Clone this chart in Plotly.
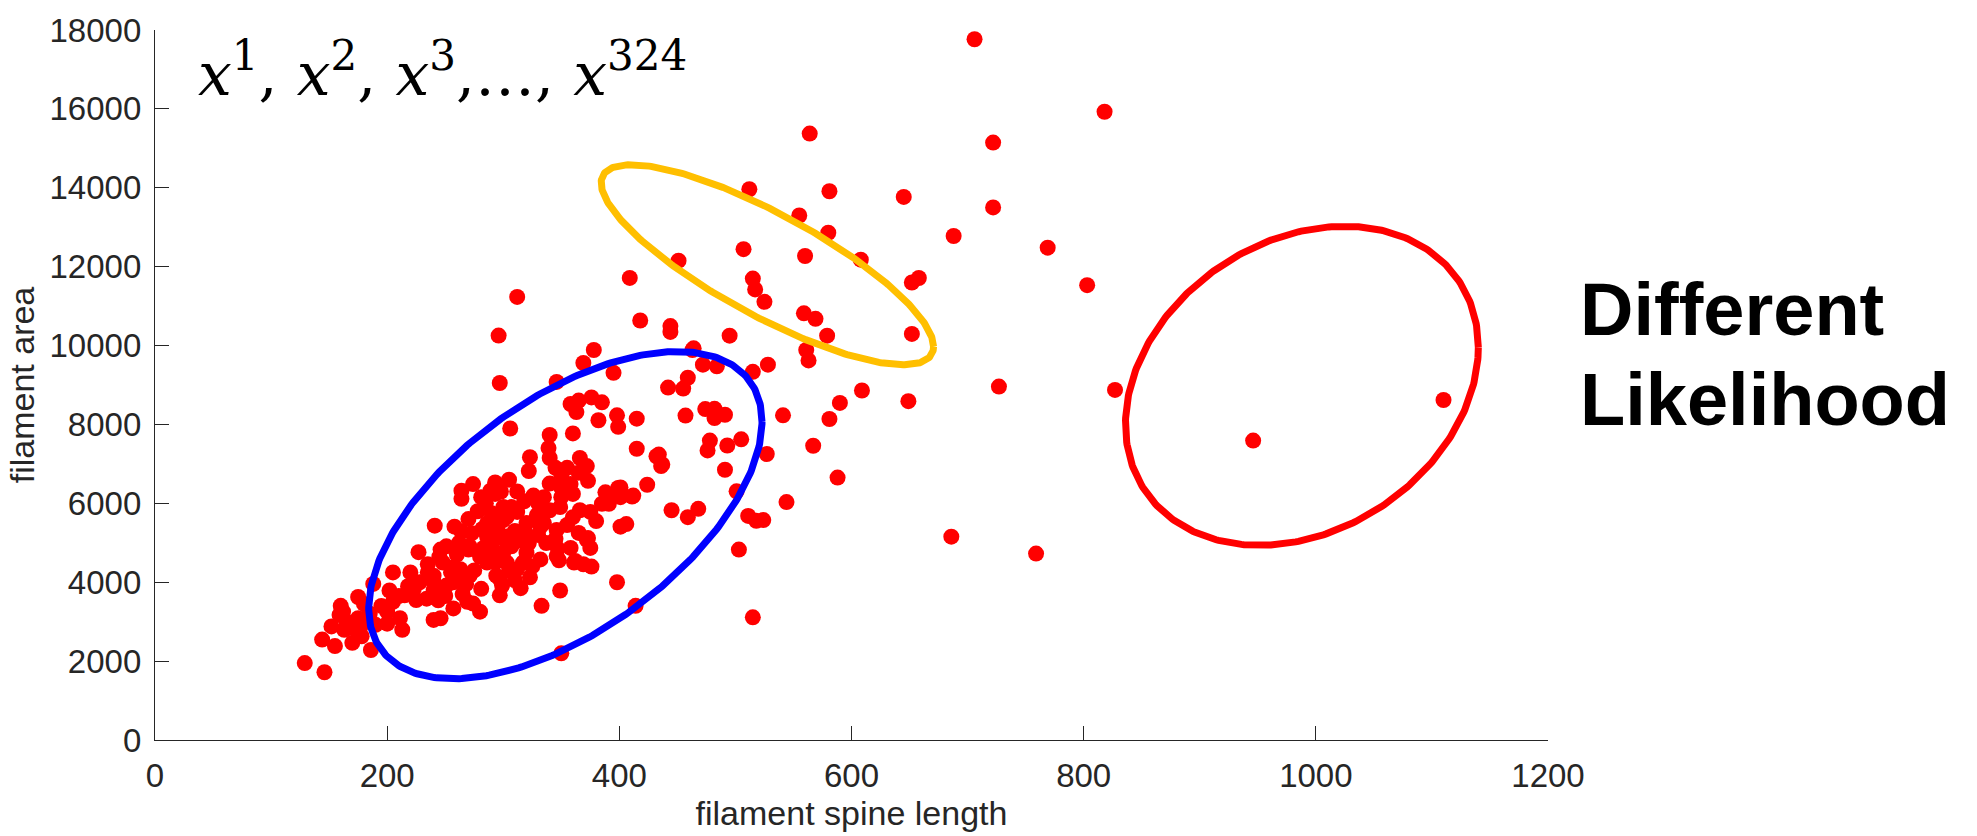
import numpy as np
import plotly.graph_objects as go

# filament measurements: spine length (x) vs. area (y)
spine_length = [
    706, 818, 722, 645, 722, 688, 769, 658, 652, 803, 652, 727, 649, 827, 1110, 946, 686, 759,
    564, 512, 581, 555, 580, 507, 560, 608, 451, 409, 515, 517, 525, 559, 569, 418, 444, 444,
    495, 579, 312, 296, 297, 306, 378, 369, 346, 395, 464, 472, 459, 442, 455, 463, 484, 515,
    528, 561, 563, 609, 590, 581, 541, 474, 482, 482, 491, 457, 567, 478, 476, 493, 505, 527,
    491, 588, 501, 459, 468, 544, 511, 518, 524, 503, 515, 414, 350, 398, 445, 432, 436,
    358, 365, 376, 385, 363, 382, 398, 399, 415, 360, 340, 415, 339, 340, 323, 322, 366, 372,
    350, 365, 373, 424, 401, 388, 412, 401, 401, 406, 385, 391, 372, 375, 358, 362, 369, 376,
    349, 323, 264, 274, 293, 293, 281, 307, 326, 335, 350, 360, 358, 289, 303, 312, 329, 340,
    349, 366, 375, 332, 346, 319, 303, 286, 273, 258, 251, 271, 291, 307, 322, 337, 332, 346,
    317, 303, 286, 263, 248, 281, 299, 312, 294, 257, 297, 283,
    333, 289, 264, 241, 227, 434, 437, 399, 399, 411, 373, 361, 347, 348, 257, 280, 240, 246,
    213, 186, 175, 188, 160, 162, 152, 163, 144, 155, 170, 129, 146, 178, 178, 190, 205, 220,
    234, 244,
    159, 175, 200, 205, 202, 211, 223, 215, 235, 246, 240, 257, 264, 270, 263, 251, 269, 274,
    271, 286, 287, 294, 297, 300, 299, 300,
    285, 290, 295, 290, 300, 305, 310, 315, 280, 275, 268, 260, 255, 245, 235, 228, 240, 250,
    265, 310, 315, 320, 325, 330, 335, 345, 355, 360, 350, 340, 330, 318, 312, 305, 298, 278,
    270, 282, 262, 355, 345, 320, 365, 380, 300, 293, 240, 218, 225, 210, 195, 185, 200, 170,
    165, 180,
]
filament_area = [
    17765, 15928, 15147, 13768, 13502, 12778, 12482, 11712, 11598, 11531, 10294, 8960, 8589, 8875, 8619, 7591, 5154, 4726,
    15373, 13962, 13912, 13298, 12859, 12444, 12270, 12178, 12153, 11715, 11697, 11424, 11108, 10818, 10677, 10635, 10494, 10346,
    10250, 10250, 11232, 10254, 9051, 7897, 9888, 9557, 9077, 9308, 9930, 9515, 9184, 8935, 8910, 9888, 9474, 9333,
    9515, 9888, 9623, 8860, 8545, 8138, 8230, 8390, 8395, 8163, 8246, 8225, 7459, 7591, 7342, 7467, 7623, 7250,
    6852, 6653, 6305, 5650, 5860, 6031, 5682, 5558, 5575, 4828, 3111, 3402, 2198, 3999, 5824, 7193, 6944,
    8519, 8604, 8686, 8561, 8313, 8106, 8230, 7939, 8146, 7773, 7733, 7384, 7400, 7150, 7168, 6819, 7150, 6944,
    6695, 6777, 6570, 6471, 6404, 6280, 6197, 6156, 5408, 5475, 5990, 5990, 5077, 4870, 4870, 4538, 4455, 4397,
    3791, 4124, 6115, 6488, 6529, 6239, 6156, 5906, 6197, 6156, 6156, 6239, 6488, 5533, 5657, 5782, 5699, 5824,
    5906, 5824, 5782, 5408, 5326, 5243, 5159, 5159, 5243, 5408, 4911, 4911, 4828, 4911, 4994, 4994, 4579, 4662,
    4497, 4497, 4497, 4331, 4497, 3833, 3915, 4331, 4165, 3999, 3667, 4870,
    3402, 6322, 6321, 5433, 4761, 7235, 6986, 6389, 6239, 6172, 5120, 4497, 4853, 4555, 3335, 3253, 3044, 3086,
    2795, 2282, 3626, 3957, 3402, 3253, 2879, 2795, 2547, 2381, 2464, 1949, 1717, 2630, 2920, 2920, 4248, 4248,
    3584, 3542,
    3169, 3086, 3253, 3502, 3791, 3086, 3833, 3667, 4455, 4828, 4165, 4373, 5284, 4828, 4082, 3915, 3502, 3459,
    4165, 5492, 4911, 5243, 4082, 5906, 4662, 5575,
    6000, 5750, 5400, 5000, 4750, 4300, 4050, 3850, 4650, 4300, 3950, 4700, 4250, 4650, 4250, 4000, 3800, 3650,
    3700, 5300, 5050, 4750, 4400, 5200, 5500, 5100, 5450, 5650, 6400, 6500, 6000, 6050, 6300, 6600, 6300, 5800,
    5600, 5350, 5000, 6900, 6900, 5500, 5250, 5550, 5100, 4500, 4000, 3900, 3550, 3650, 3400, 3200, 2950, 2850,
    3000, 3450,
]

# Gaussian components (mean, covariance) whose 1-sigma contours are drawn
component_means = [
    [353.5, 5700.0],
    [527.5, 12048.0],
    [988.0, 8980.0],
]
component_covs = [
    [[28700.0, 400700.0], [400700.0, 17203000.0]],
    [[20500.0, -296900.0], [-296900.0, 6432000.0]],
    [[23100.0, 148200.0], [148200.0, 16356000.0]],
]
component_colors = ["#0000FF", "#FFBF00", "#FF0000"]

x_ticks = [0, 200, 400, 600, 800, 1000, 1200]
y_ticks = [0, 2000, 4000, 6000, 8000, 10000, 12000, 14000, 16000, 18000]

W, H = 1977, 836
L_M, R_M, T_M, B_M = 155, 429, 21, 92
PW, PH = W - L_M - R_M, H - T_M - B_M

AX_COLOR = "#262626"
FONT = "Liberation Sans, Arial, Helvetica, sans-serif"

fig = go.Figure()

fig.add_trace(go.Scatter(
    x=spine_length, y=filament_area, mode="markers",
    marker=dict(color="#FF0000", size=16, line=dict(width=0)),
    hoverinfo="x+y", showlegend=False,
))

t = np.linspace(0, 2 * np.pi, 400)
circle = np.vstack([np.cos(t), np.sin(t)])
for mu, cov, col in zip(component_means, component_covs, component_colors):
    chol = np.linalg.cholesky(np.array(cov))
    pts = np.array(mu)[:, None] + chol @ circle
    fig.add_trace(go.Scatter(
        x=pts[0], y=pts[1], mode="lines",
        line=dict(color=col, width=7), hoverinfo="skip", showlegend=False,
    ))


def px_x(p):
    return (p - L_M) / PW


def px_y(p):
    return (H - B_M - p) / PH


fig.add_annotation(
    x=px_x(196), y=px_y(62), xref="paper", yref="paper",
    xanchor="left", yanchor="middle", showarrow=False,
    text=("<i>x</i><sup>1</sup>, <i>x</i><sup>2</sup>, <i>x</i><sup>3</sup>,…, "
          "<i>x</i><sup>324</sup>"),
    font=dict(family="DejaVu Serif, serif", size=60, color="black"),
)
fig.add_annotation(
    x=px_x(1578), y=px_y(306), xref="paper", yref="paper",
    xanchor="left", yanchor="middle", showarrow=False,
    text="<b>Different</b>",
    font=dict(family=FONT, size=74, color="black"),
)
fig.add_annotation(
    x=px_x(1578), y=px_y(397), xref="paper", yref="paper",
    xanchor="left", yanchor="middle", showarrow=False,
    text="<b>Likelihood</b>",
    font=dict(family=FONT, size=74, color="black"),
)

axis_common = dict(
    showgrid=False, zeroline=False, showline=True, linecolor=AX_COLOR, linewidth=1.3,
    ticks="inside", ticklen=14, tickwidth=1, tickcolor=AX_COLOR,
    tickfont=dict(family=FONT, size=33, color=AX_COLOR),
    mirror=False,
)

fig.update_layout(
    width=W, height=H,
    margin=dict(l=L_M, r=R_M, t=T_M, b=B_M, pad=0),
    paper_bgcolor="white", plot_bgcolor="white",
    xaxis=dict(
        range=[0, 1200], tickvals=x_ticks, ticktext=[str(v) for v in x_ticks],
        title=dict(text="filament spine length", font=dict(family=FONT, size=34, color=AX_COLOR), standoff=6),
        ticklabelstandoff=6,
        **axis_common,
    ),
    yaxis=dict(
        range=[0, 18000], tickvals=y_ticks, ticktext=[str(v) for v in y_ticks],
        title=dict(text="filament area", font=dict(family=FONT, size=34, color=AX_COLOR), standoff=4),
        ticklabelstandoff=6,
        **axis_common,
    ),
)

fig.write_html("out.html")
